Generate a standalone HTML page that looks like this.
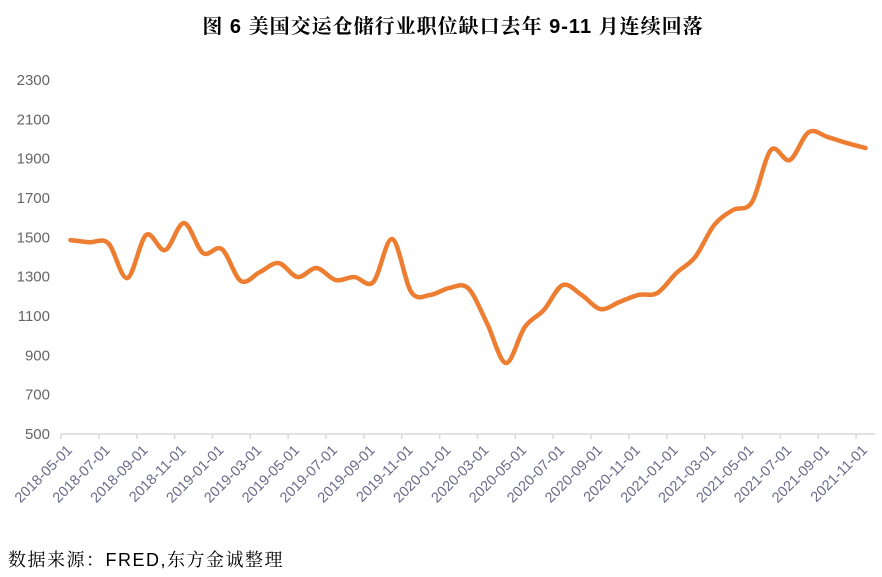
<!DOCTYPE html>
<html><head><meta charset="utf-8"><style>
body{margin:0;background:#fff;width:882px;height:577px;overflow:hidden;font-family:"Liberation Sans","Noto Sans CJK SC",sans-serif;}
#title{position:absolute;left:0;width:906px;top:10px;text-align:center;font-size:20px;font-weight:bold;color:#000;font-family:"Liberation Sans","Noto Serif CJK SC",serif;letter-spacing:1px}
#src{position:absolute;left:8px;top:546px;font-size:18px;letter-spacing:1.5px;color:#000;font-family:"Liberation Sans","Noto Serif CJK SC",serif}
svg{position:absolute;left:0;top:0}
</style></head><body>
<div id="title">图 6 美国交运仓储行业职位缺口去年 9-11 月连续回落</div>
<div id="src">数据来源：FRED,东方金诚整理</div>
<svg id="chart" width="882" height="577"></svg>
<script>
const months = ["2018-05-01","2018-06-01","2018-07-01","2018-08-01","2018-09-01","2018-10-01","2018-11-01","2018-12-01","2019-01-01","2019-02-01","2019-03-01","2019-04-01","2019-05-01","2019-06-01","2019-07-01","2019-08-01","2019-09-01","2019-10-01","2019-11-01","2019-12-01","2020-01-01","2020-02-01","2020-03-01","2020-04-01","2020-05-01","2020-06-01","2020-07-01","2020-08-01","2020-09-01","2020-10-01","2020-11-01","2020-12-01","2021-01-01","2021-02-01","2021-03-01","2021-04-01","2021-05-01","2021-06-01","2021-07-01","2021-08-01","2021-09-01","2021-10-01","2021-11-01"];
const values = [1486,1475,1470,1293,1512,1435,1573,1420,1440,1278,1323,1369,1298,1344,1283,1298,1273,1491,1222,1207,1242,1242,1064,861,1044,1130,1257,1207,1135,1171,1207,1217,1318,1400,1562,1639,1679,1944,1893,2035,2010,1980,1954];
const yTicks = [500,700,900,1100,1300,1500,1700,1900,2100,2300];
const ns="http://www.w3.org/2000/svg";
const svg=document.getElementById('chart');
const X0=61,X1=875,Y0=434,Y1=80,YMIN=500,YMAX=2300;
const mw=(X1-X0)/months.length;
function xPos(i){return X0+(i+0.5)*mw;}
function xEdge(i){return X0+i*mw;}
function yPos(v){return Y0-(v-YMIN)/(YMAX-YMIN)*(Y0-Y1);}
function mk(t,a){const e=document.createElementNS(ns,t);for(const k in a)e.setAttribute(k,a[k]);svg.appendChild(e);return e;}
yTicks.forEach(v=>{
  const t=mk('text',{x:50,y:yPos(v)+5,'text-anchor':'end','font-size':'15','fill':'#666','font-family':'Liberation Sans, sans-serif'});
  
  
  t.textContent=v;
});
const ax=mk('line',{x1:X0,x2:X1,y1:Y0,y2:Y0,stroke:'#d9d9d9','stroke-width':'1.5'});


months.forEach((m,i)=>{
  if(i%2!==0)return;
  const x=xEdge(i);
  const tk=mk('line',{x1:x,x2:x,y1:Y0,y2:Y0+5,stroke:'#d9d9d9','stroke-width':'1.5'});
  
  
  const ax2=x+12, ay2=Y0+17;
  const t=mk('text',{x:ax2,y:ay2,'text-anchor':'end','font-size':'14.5','fill':'#6a6a8a','font-family':'Liberation Sans, sans-serif',transform:`rotate(-45 ${ax2} ${ay2})`});
  
  
  t.textContent=m;
});
const pts=values.map((v,i)=>[xPos(i),yPos(v)]);
let d=`M${pts[0][0]},${pts[0][1]}`;
for(let i=0;i<pts.length-1;i++){
  const p0=pts[Math.max(0,i-1)],p1=pts[i],p2=pts[i+1],p3=pts[Math.min(pts.length-1,i+2)];
  const c1=[p1[0]+(p2[0]-p0[0])/6,p1[1]+(p2[1]-p0[1])/6];
  const c2=[p2[0]-(p3[0]-p1[0])/6,p2[1]-(p3[1]-p1[1])/6];
  d+=` C${c1[0]},${c1[1]} ${c2[0]},${c2[1]} ${p2[0]},${p2[1]}`;
}
const line=mk('path',{d:d,fill:'none',stroke:'#ED7D31','stroke-width':'4.5','stroke-linejoin':'round','stroke-linecap':'round'});


</script>
</body></html>
